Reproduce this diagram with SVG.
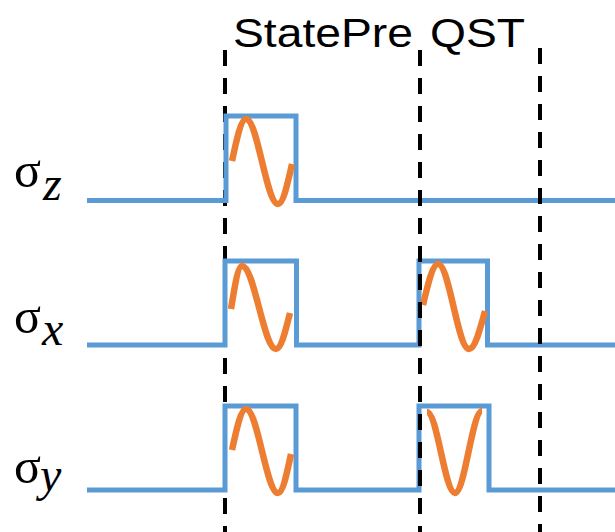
<svg xmlns="http://www.w3.org/2000/svg" width="615" height="532" viewBox="0 0 615 532">
  <style>
    .title { font-family: "Liberation Sans", Arial, sans-serif; font-size: 40px; fill: #000; }
    .sig { font-family: "Liberation Serif", "Times New Roman", serif; font-size: 50px; fill: #000; }
    .sub { font-family: "Liberation Serif", "Times New Roman", serif; font-style: italic; font-size: 48px; fill: #000; }
    .divider { stroke: #000; stroke-width: 4; stroke-dasharray: 16 12; fill: none; }
    .pulse { stroke: #5B9BD5; stroke-width: 5; fill: none; stroke-linejoin: miter; }
    .wave { stroke: #ED7D31; stroke-width: 6.5; fill: none; stroke-linecap: butt; }
  </style>

  <rect width="615" height="532" fill="#fff"/>

  <!-- section headings -->
  <g id="headings">
    <text class="title" x="233" y="47" textLength="180" lengthAdjust="spacingAndGlyphs">StatePre</text>
    <text class="title" x="430" y="47" textLength="95" lengthAdjust="spacingAndGlyphs">QST</text>
  </g>

  <!-- first time divider sits beneath the pulse traces -->
  <g id="divider-1">
    <line class="divider" x1="225" y1="50" x2="225" y2="532"/>
  </g>

  <!-- channel labels -->
  <g id="label-z">
    <text class="sig" x="14" y="187">σ</text>
    <text class="sub" x="43" y="200">z</text>
  </g>
  <g id="label-x">
    <text class="sig" x="14" y="333">σ</text>
    <text class="sub" x="42" y="345">x</text>
  </g>
  <g id="label-y">
    <text class="sig" x="14" y="483">σ</text>
    <text class="sub" x="40" y="491">y</text>
  </g>

  <!-- pulse envelopes -->
  <g id="trace-z">
    <path class="pulse" d="M87,200.5 H226 V116 H296 V200.5 H615"/>
    <path class="wave" d="M232,161 C236.6,139.5 240.9,119 246,119 C257.6,119 266.4,204 278,204 C283.1,204 287.4,184.5 292,164"/>
  </g>
  <g id="trace-x">
    <path class="pulse" d="M87,345 H225 V261 H296.5 V345 H419 V261 H487.5 V345 H615"/>
    <path class="wave" d="M231,309 C234.6,287 238,266 242,266 C254.4,266 263.6,349 276,349 C281.1,349 285.4,331.4 290,313"/>
    <path class="wave" d="M423,305 C427.9,284 432.6,264 438,264 C449.3,264 457.7,349 469,349 C474.8,349 479.8,330.5 485,311"/>
  </g>
  <g id="trace-y">
    <path class="pulse" d="M87,490 H225 V406 H296 V490 H419 V406 H489 V490 H615"/>
    <path class="wave" d="M232,450 C236.6,429 240.9,409 246,409 C257.6,409 266.4,493 278,493 C282.7,493 286.8,474 291,454"/>
    <path class="wave" d="M427,412 C437.2,412 444.8,493 455,493 C464.8,493 472.2,411 482,411"/>
  </g>

  <!-- remaining time dividers drawn over the traces -->
  <g id="divider-2">
    <line class="divider" x1="420" y1="50" x2="420" y2="532"/>
  </g>
  <g id="divider-3">
    <line class="divider" x1="540" y1="48" x2="540" y2="532"/>
  </g>
</svg>
